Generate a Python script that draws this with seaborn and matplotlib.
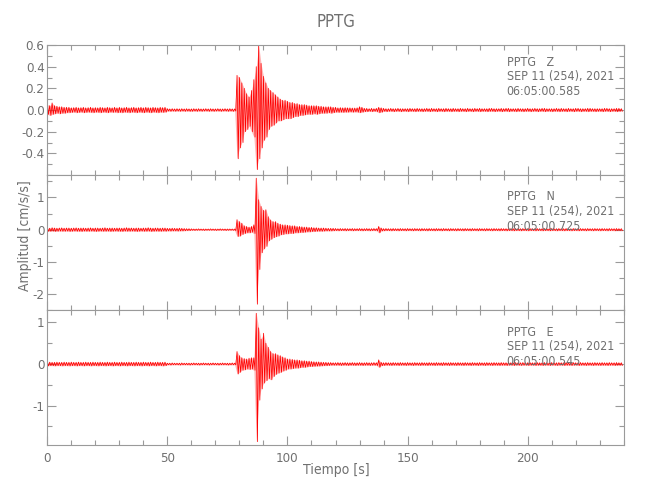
import numpy as np
import pandas as pd
import matplotlib
matplotlib.use("Agg")
import matplotlib.pyplot as plt
from matplotlib import font_manager
from matplotlib.ticker import MultipleLocator, FixedLocator, FormatStrFormatter
import seaborn as sns

# ---------------- data (envelope per 1 s bin) ----------------
station = "PPTG"
components = ["Z", "N", "E"]
start_times = ["06:05:00.585", "06:05:00.725", "06:05:00.545"]
date_label = "SEP 11 (254), 2021"
time_s = list(range(0, 240))

# upper / lower extremes of each 1-s bin
z_up = [
    0.05, 0.04, 0.065, 0.04, 0.035, 0.03, 0.03, 0.025, 0.025, 0.025,
    0.02, 0.022, 0.025, 0.02, 0.022, 0.025, 0.02, 0.022, 0.025, 0.02,
    0.022, 0.02, 0.025, 0.022, 0.02, 0.025, 0.022, 0.02, 0.025, 0.02,
    0.025, 0.02, 0.022, 0.025, 0.02, 0.022, 0.025, 0.02, 0.022, 0.025,
    0.02, 0.025, 0.022, 0.02, 0.025, 0.022, 0.02, 0.025, 0.022, 0.025,
    0.012, 0.01, 0.012, 0.01, 0.012, 0.01, 0.012, 0.01, 0.012, 0.01,
    0.01, 0.012, 0.01, 0.012, 0.01, 0.01, 0.012, 0.01, 0.012, 0.01,
    0.01, 0.012, 0.01, 0.01, 0.012, 0.01, 0.012, 0.01, 0.01, 0.32,
    0.3, 0.25, 0.2, 0.15, 0.12, 0.18, 0.28, 0.4, 0.6, 0.43,
    0.31, 0.25, 0.2, 0.18, 0.16, 0.14, 0.12, 0.1, 0.09, 0.09,
    0.08, 0.07, 0.07, 0.06, 0.06, 0.05, 0.05, 0.05, 0.045, 0.04,
    0.04, 0.04, 0.04, 0.035, 0.035, 0.03, 0.03, 0.03, 0.03, 0.025,
    0.025, 0.02, 0.022, 0.02, 0.022, 0.02, 0.02, 0.018, 0.018, 0.02,
    0.03, 0.025, 0.015, 0.015, 0.012, 0.015, 0.012, 0.015, 0.025, 0.02,
    0.015, 0.012, 0.012, 0.015, 0.012, 0.012, 0.015, 0.012, 0.012, 0.012,
    0.012, 0.015, 0.012, 0.012, 0.015, 0.012, 0.012, 0.012, 0.015, 0.012,
    0.015, 0.012, 0.012, 0.015, 0.012, 0.012, 0.015, 0.012, 0.012, 0.015,
    0.012, 0.012, 0.015, 0.012, 0.012, 0.015, 0.012, 0.012, 0.015, 0.012,
    0.015, 0.012, 0.012, 0.012, 0.015, 0.015, 0.012, 0.012, 0.012, 0.015,
    0.012, 0.015, 0.015, 0.012, 0.012, 0.012, 0.015, 0.012, 0.012, 0.012,
    0.015, 0.012, 0.012, 0.015, 0.012, 0.012, 0.015, 0.015, 0.012, 0.012,
    0.012, 0.012, 0.015, 0.012, 0.015, 0.012, 0.012, 0.015, 0.012, 0.012,
    0.015, 0.015, 0.012, 0.012, 0.012, 0.015, 0.015, 0.012, 0.012, 0.012,
    0.012, 0.012, 0.015, 0.015, 0.012, 0.012, 0.012, 0.015, 0.015, 0.012,
]
z_lo = [
    -0.04, -0.05, -0.04, -0.035, -0.03, -0.035, -0.03, -0.03, -0.025, -0.025,
    -0.022, -0.02, -0.025, -0.022, -0.02, -0.025, -0.022, -0.02, -0.022, -0.025,
    -0.02, -0.022, -0.025, -0.02, -0.022, -0.025, -0.02, -0.022, -0.02, -0.025,
    -0.022, -0.025, -0.02, -0.022, -0.025, -0.02, -0.022, -0.025, -0.02, -0.022,
    -0.025, -0.02, -0.022, -0.025, -0.02, -0.022, -0.025, -0.02, -0.022, -0.02,
    -0.01, -0.012, -0.01, -0.012, -0.01, -0.012, -0.01, -0.012, -0.01, -0.012,
    -0.012, -0.01, -0.012, -0.01, -0.012, -0.01, -0.01, -0.012, -0.01, -0.012,
    -0.01, -0.01, -0.012, -0.01, -0.01, -0.012, -0.01, -0.012, -0.01, -0.45,
    -0.35, -0.3, -0.2, -0.18, -0.15, -0.2, -0.25, -0.55, -0.45, -0.35,
    -0.28, -0.25, -0.18, -0.15, -0.14, -0.12, -0.1, -0.1, -0.09, -0.08,
    -0.08, -0.08, -0.07, -0.06, -0.06, -0.05, -0.05, -0.045, -0.04, -0.04,
    -0.04, -0.035, -0.04, -0.035, -0.03, -0.03, -0.03, -0.025, -0.03, -0.025,
    -0.02, -0.022, -0.02, -0.022, -0.02, -0.02, -0.018, -0.02, -0.018, -0.02,
    -0.025, -0.02, -0.015, -0.015, -0.012, -0.015, -0.012, -0.015, -0.025, -0.02,
    -0.012, -0.015, -0.012, -0.012, -0.015, -0.012, -0.012, -0.015, -0.012, -0.012,
    -0.015, -0.012, -0.012, -0.015, -0.012, -0.012, -0.015, -0.012, -0.012, -0.015,
    -0.012, -0.012, -0.015, -0.012, -0.012, -0.015, -0.012, -0.012, -0.015, -0.012,
    -0.012, -0.015, -0.012, -0.012, -0.015, -0.012, -0.012, -0.015, -0.012, -0.012,
    -0.015, -0.012, -0.012, -0.015, -0.012, -0.012, -0.015, -0.012, -0.012, -0.015,
    -0.012, -0.012, -0.015, -0.012, -0.012, -0.015, -0.012, -0.012, -0.015, -0.012,
    -0.012, -0.015, -0.012, -0.012, -0.015, -0.012, -0.012, -0.015, -0.012, -0.012,
    -0.015, -0.012, -0.012, -0.015, -0.012, -0.012, -0.015, -0.012, -0.012, -0.015,
    -0.012, -0.012, -0.015, -0.012, -0.012, -0.015, -0.012, -0.012, -0.015, -0.012,
    -0.012, -0.015, -0.012, -0.012, -0.015, -0.012, -0.012, -0.015, -0.012, -0.012,
]

n_up = [
    0.05, 0.045, 0.06, 0.05, 0.045, 0.05, 0.055, 0.045, 0.05, 0.05,
    0.045, 0.05, 0.055, 0.045, 0.05, 0.05, 0.045, 0.05, 0.055, 0.045,
    0.05, 0.05, 0.045, 0.05, 0.06, 0.045, 0.05, 0.05, 0.045, 0.05,
    0.05, 0.045, 0.05, 0.06, 0.05, 0.05, 0.045, 0.05, 0.05, 0.045,
    0.05, 0.05, 0.06, 0.05, 0.045, 0.05, 0.05, 0.045, 0.05, 0.05,
    0.04, 0.04, 0.045, 0.04, 0.04, 0.045, 0.04, 0.035, 0.03, 0.03,
    0.025, 0.02, 0.02, 0.025, 0.02, 0.02, 0.02, 0.02, 0.025, 0.02,
    0.02, 0.02, 0.025, 0.02, 0.02, 0.02, 0.02, 0.02, 0.02, 0.31,
    0.25, 0.2, 0.12, 0.1, 0.08, 0.1, 0.15, 1.6, 0.93, 0.72,
    0.6, 0.62, 0.4, 0.3, 0.25, 0.25, 0.2, 0.17, 0.15, 0.15,
    0.14, 0.13, 0.12, 0.12, 0.1, 0.1, 0.09, 0.08, 0.08, 0.07,
    0.07, 0.06, 0.06, 0.05, 0.05, 0.05, 0.045, 0.04, 0.04, 0.04,
    0.035, 0.03, 0.035, 0.03, 0.035, 0.03, 0.03, 0.035, 0.03, 0.03,
    0.035, 0.03, 0.03, 0.035, 0.03, 0.03, 0.035, 0.03, 0.1, 0.05,
    0.03, 0.035, 0.03, 0.03, 0.035, 0.03, 0.03, 0.035, 0.03, 0.03,
    0.035, 0.03, 0.03, 0.035, 0.03, 0.03, 0.035, 0.03, 0.03, 0.035,
    0.03, 0.03, 0.035, 0.03, 0.03, 0.035, 0.03, 0.03, 0.035, 0.03,
    0.03, 0.035, 0.03, 0.03, 0.035, 0.03, 0.03, 0.035, 0.03, 0.03,
    0.035, 0.03, 0.03, 0.035, 0.03, 0.03, 0.035, 0.03, 0.03, 0.035,
    0.03, 0.03, 0.035, 0.03, 0.03, 0.035, 0.03, 0.03, 0.035, 0.03,
    0.03, 0.035, 0.03, 0.03, 0.035, 0.03, 0.03, 0.035, 0.03, 0.03,
    0.035, 0.03, 0.03, 0.035, 0.03, 0.03, 0.035, 0.03, 0.03, 0.035,
    0.03, 0.03, 0.035, 0.03, 0.03, 0.035, 0.03, 0.03, 0.035, 0.03,
    0.03, 0.035, 0.03, 0.03, 0.035, 0.03, 0.03, 0.035, 0.03, 0.03,
]
n_lo = [
    -0.05, -0.05, -0.045, -0.055, -0.05, -0.045, -0.05, -0.05, -0.045, -0.055,
    -0.05, -0.045, -0.05, -0.05, -0.055, -0.045, -0.05, -0.05, -0.045, -0.05,
    -0.055, -0.05, -0.045, -0.05, -0.05, -0.045, -0.055, -0.05, -0.045, -0.05,
    -0.05, -0.055, -0.045, -0.05, -0.05, -0.045, -0.05, -0.055, -0.05, -0.045,
    -0.05, -0.05, -0.045, -0.055, -0.05, -0.045, -0.05, -0.05, -0.045, -0.05,
    -0.04, -0.045, -0.04, -0.04, -0.045, -0.04, -0.04, -0.035, -0.03, -0.03,
    -0.02, -0.025, -0.02, -0.02, -0.02, -0.025, -0.02, -0.02, -0.02, -0.02,
    -0.025, -0.02, -0.02, -0.02, -0.025, -0.02, -0.02, -0.02, -0.03, -0.21,
    -0.2, -0.15, -0.12, -0.1, -0.1, -0.08, -0.12, -2.32, -1.24, -0.72,
    -0.6, -0.52, -0.35, -0.3, -0.25, -0.22, -0.2, -0.16, -0.15, -0.13,
    -0.13, -0.12, -0.12, -0.1, -0.1, -0.09, -0.09, -0.08, -0.07, -0.07,
    -0.06, -0.06, -0.05, -0.05, -0.05, -0.045, -0.04, -0.04, -0.04, -0.035,
    -0.03, -0.035, -0.03, -0.03, -0.035, -0.03, -0.03, -0.035, -0.03, -0.03,
    -0.03, -0.035, -0.03, -0.03, -0.035, -0.03, -0.03, -0.035, -0.1, -0.04,
    -0.035, -0.03, -0.03, -0.035, -0.03, -0.03, -0.035, -0.03, -0.03, -0.035,
    -0.03, -0.03, -0.035, -0.03, -0.03, -0.035, -0.03, -0.03, -0.035, -0.03,
    -0.03, -0.035, -0.03, -0.03, -0.035, -0.03, -0.03, -0.035, -0.03, -0.03,
    -0.035, -0.03, -0.03, -0.035, -0.03, -0.03, -0.035, -0.03, -0.03, -0.035,
    -0.03, -0.03, -0.035, -0.03, -0.03, -0.035, -0.03, -0.03, -0.035, -0.03,
    -0.03, -0.035, -0.03, -0.03, -0.035, -0.03, -0.03, -0.035, -0.03, -0.03,
    -0.035, -0.03, -0.03, -0.035, -0.03, -0.03, -0.035, -0.03, -0.03, -0.035,
    -0.03, -0.03, -0.035, -0.03, -0.03, -0.035, -0.03, -0.03, -0.035, -0.03,
    -0.03, -0.035, -0.03, -0.03, -0.035, -0.03, -0.03, -0.035, -0.03, -0.03,
    -0.035, -0.03, -0.03, -0.035, -0.03, -0.03, -0.035, -0.03, -0.03, -0.035,
]

e_up = [
    0.04, 0.045, 0.04, 0.04, 0.045, 0.04, 0.04, 0.045, 0.04, 0.04,
    0.045, 0.04, 0.04, 0.045, 0.04, 0.04, 0.045, 0.04, 0.04, 0.045,
    0.04, 0.04, 0.045, 0.04, 0.04, 0.045, 0.04, 0.04, 0.045, 0.04,
    0.04, 0.045, 0.04, 0.04, 0.045, 0.04, 0.04, 0.045, 0.04, 0.04,
    0.045, 0.04, 0.04, 0.045, 0.04, 0.04, 0.045, 0.04, 0.04, 0.045,
    0.02, 0.02, 0.025, 0.02, 0.02, 0.02, 0.025, 0.02, 0.02, 0.02,
    0.02, 0.025, 0.02, 0.02, 0.02, 0.025, 0.02, 0.02, 0.02, 0.025,
    0.02, 0.02, 0.02, 0.025, 0.02, 0.02, 0.02, 0.025, 0.02, 0.3,
    0.2, 0.15, 0.13, 0.12, 0.14, 0.15, 0.15, 1.22, 0.87, 0.6,
    0.74, 0.5, 0.4, 0.3, 0.25, 0.25, 0.22, 0.2, 0.17, 0.15,
    0.12, 0.12, 0.11, 0.1, 0.1, 0.09, 0.08, 0.08, 0.07, 0.07,
    0.06, 0.055, 0.05, 0.05, 0.045, 0.04, 0.04, 0.035, 0.035, 0.03,
    0.03, 0.035, 0.03, 0.03, 0.035, 0.03, 0.03, 0.035, 0.03, 0.03,
    0.035, 0.03, 0.03, 0.035, 0.03, 0.03, 0.035, 0.03, 0.1, 0.04,
    0.03, 0.035, 0.03, 0.03, 0.035, 0.03, 0.03, 0.035, 0.03, 0.03,
    0.035, 0.03, 0.03, 0.035, 0.03, 0.03, 0.035, 0.03, 0.03, 0.035,
    0.03, 0.03, 0.035, 0.03, 0.03, 0.035, 0.03, 0.03, 0.035, 0.03,
    0.03, 0.035, 0.03, 0.03, 0.035, 0.03, 0.03, 0.035, 0.03, 0.03,
    0.035, 0.03, 0.03, 0.035, 0.03, 0.03, 0.035, 0.03, 0.03, 0.035,
    0.03, 0.03, 0.035, 0.03, 0.03, 0.035, 0.03, 0.03, 0.035, 0.03,
    0.03, 0.035, 0.03, 0.03, 0.035, 0.03, 0.03, 0.035, 0.03, 0.03,
    0.035, 0.03, 0.03, 0.035, 0.03, 0.03, 0.035, 0.03, 0.03, 0.035,
    0.03, 0.03, 0.035, 0.03, 0.03, 0.035, 0.03, 0.03, 0.035, 0.03,
    0.03, 0.035, 0.03, 0.03, 0.035, 0.03, 0.03, 0.035, 0.03, 0.03,
]
e_lo = [
    -0.045, -0.04, -0.04, -0.045, -0.04, -0.04, -0.045, -0.04, -0.04, -0.045,
    -0.04, -0.04, -0.045, -0.04, -0.04, -0.045, -0.04, -0.04, -0.045, -0.04,
    -0.04, -0.045, -0.04, -0.04, -0.045, -0.04, -0.04, -0.045, -0.04, -0.04,
    -0.045, -0.04, -0.04, -0.045, -0.04, -0.04, -0.045, -0.04, -0.04, -0.045,
    -0.04, -0.04, -0.045, -0.04, -0.04, -0.045, -0.04, -0.04, -0.045, -0.04,
    -0.02, -0.025, -0.02, -0.02, -0.02, -0.025, -0.02, -0.02, -0.02, -0.025,
    -0.02, -0.02, -0.02, -0.025, -0.02, -0.02, -0.02, -0.025, -0.02, -0.02,
    -0.02, -0.025, -0.02, -0.02, -0.02, -0.025, -0.02, -0.02, -0.02, -0.24,
    -0.2, -0.15, -0.14, -0.12, -0.13, -0.12, -0.15, -1.87, -0.87, -0.6,
    -0.46, -0.4, -0.35, -0.38, -0.3, -0.25, -0.22, -0.2, -0.17, -0.15,
    -0.12, -0.12, -0.11, -0.1, -0.1, -0.09, -0.08, -0.08, -0.07, -0.06,
    -0.06, -0.055, -0.05, -0.05, -0.045, -0.04, -0.04, -0.035, -0.03, -0.03,
    -0.03, -0.03, -0.035, -0.03, -0.03, -0.035, -0.03, -0.03, -0.035, -0.03,
    -0.03, -0.035, -0.03, -0.03, -0.035, -0.03, -0.03, -0.035, -0.08, -0.04,
    -0.035, -0.03, -0.03, -0.035, -0.03, -0.03, -0.035, -0.03, -0.03, -0.035,
    -0.03, -0.03, -0.035, -0.03, -0.03, -0.035, -0.03, -0.03, -0.035, -0.03,
    -0.03, -0.035, -0.03, -0.03, -0.035, -0.03, -0.03, -0.035, -0.03, -0.03,
    -0.035, -0.03, -0.03, -0.035, -0.03, -0.03, -0.035, -0.03, -0.03, -0.035,
    -0.03, -0.03, -0.035, -0.03, -0.03, -0.035, -0.03, -0.03, -0.035, -0.03,
    -0.03, -0.035, -0.03, -0.03, -0.035, -0.03, -0.03, -0.035, -0.03, -0.03,
    -0.035, -0.03, -0.03, -0.035, -0.03, -0.03, -0.035, -0.03, -0.03, -0.035,
    -0.03, -0.03, -0.035, -0.03, -0.03, -0.035, -0.03, -0.03, -0.035, -0.03,
    -0.03, -0.035, -0.03, -0.03, -0.035, -0.03, -0.03, -0.035, -0.03, -0.03,
    -0.035, -0.03, -0.03, -0.035, -0.03, -0.03, -0.035, -0.03, -0.03, -0.035,
]

y_limits = [(-0.6, 0.6), (-2.5, 1.7), (-1.95, 1.3)]
y_major = [[-0.4, -0.2, 0.0, 0.2, 0.4, 0.6], [-2, -1, 0, 1], [-1, 0, 1]]
y_minor = [0.1, 0.5, 0.5]
y_fmt = ["%.1f", "%d", "%d"]
x_ticks = [0, 50, 100, 150, 200]

# ---------------- style ----------------
sns.set_style("ticks")
names = {f.name for f in font_manager.fontManager.ttflist}
if "Liberation Sans Narrow" in names:
    plt.rcParams["font.family"] = ["Liberation Sans Narrow", "DejaVu Sans"]
else:
    plt.rcParams["font.family"] = ["DejaVu Sans"]
    plt.rcParams["font.stretch"] = "condensed"
plt.rcParams["axes.unicode_minus"] = True

TXT = "#707070"
SPN = "#9a9a9a"
RED = "#ff0000"

W, H = 650, 500
fig = plt.figure(figsize=(6.5, 5), dpi=100)
left_px, right_px = 47.3, 623.7
panel_px = [(45, 175), (175, 310), (310, 445)]

env = {"Z": (z_up, z_lo), "N": (n_up, n_lo), "E": (e_up, e_lo)}

axes = []
for i, comp in enumerate(components):
    up, lo = env[comp]
    # trace: alternate between the upper and lower extreme of each bin
    tt, aa = [], []
    for t, u, l in zip(time_s, up, lo):
        tt += [t, t + 0.5]
        aa += [u, l]
    trace = pd.DataFrame({"t": tt, "amp": aa})

    top, bot = panel_px[i]
    ax = fig.add_axes([left_px / W, 1 - bot / H, (right_px - left_px) / W, (bot - top) / H])
    axes.append(ax)
    ax.fill_between(time_s, lo, up, color=RED, alpha=0.28, lw=0)
    sns.lineplot(data=trace, x="t", y="amp", ax=ax, color=RED, lw=0.55,
                 estimator=None, sort=False, legend=False)
    ax.set_xlim(0, 240)
    ax.set_ylim(*y_limits[i])
    ax.xaxis.set_major_locator(FixedLocator(x_ticks))
    ax.xaxis.set_minor_locator(MultipleLocator(10))
    ax.yaxis.set_major_locator(FixedLocator(y_major[i]))
    ax.yaxis.set_minor_locator(MultipleLocator(y_minor[i]))
    ax.yaxis.set_major_formatter(FormatStrFormatter(y_fmt[i]))
    ax.tick_params(which="both", direction="in", top=True, right=True,
                   colors=SPN, labelcolor=TXT, labelsize=9.5, width=0.8)
    ax.tick_params(which="major", length=6.5, pad=2)
    ax.tick_params(which="minor", length=3.6)
    for s in ax.spines.values():
        s.set_color(SPN)
        s.set_linewidth(0.8)
    ax.set_xlabel("")
    ax.set_ylabel("")
    if i < 2:
        ax.tick_params(labelbottom=False)
    base = [(66, 80, 95), (200, 215, 230), (336, 350, 365)][i]
    lines = [f"{station}   {comp}", date_label, start_times[i]]
    for yb, txt in zip(base, lines):
        fig.text(506.5 / W, 1 - yb / H, txt, color=TXT, fontsize=8.9,
                 ha="left", va="baseline")

axes[2].tick_params(axis="x", pad=5)
fig.text(336 / W, 1 - 22 / H, station, color=TXT, fontsize=12, ha="center", va="center")
fig.text(336 / W, 1 - 470 / H, "Tiempo [s]", color=TXT, fontsize=10, ha="center", va="center")
fig.text(25 / W, 1 - 236 / H, "Amplitud [cm/s/s]", color=TXT, fontsize=10,
         ha="center", va="center", rotation=90)

fig.savefig("out.png", dpi=100, facecolor="white")
